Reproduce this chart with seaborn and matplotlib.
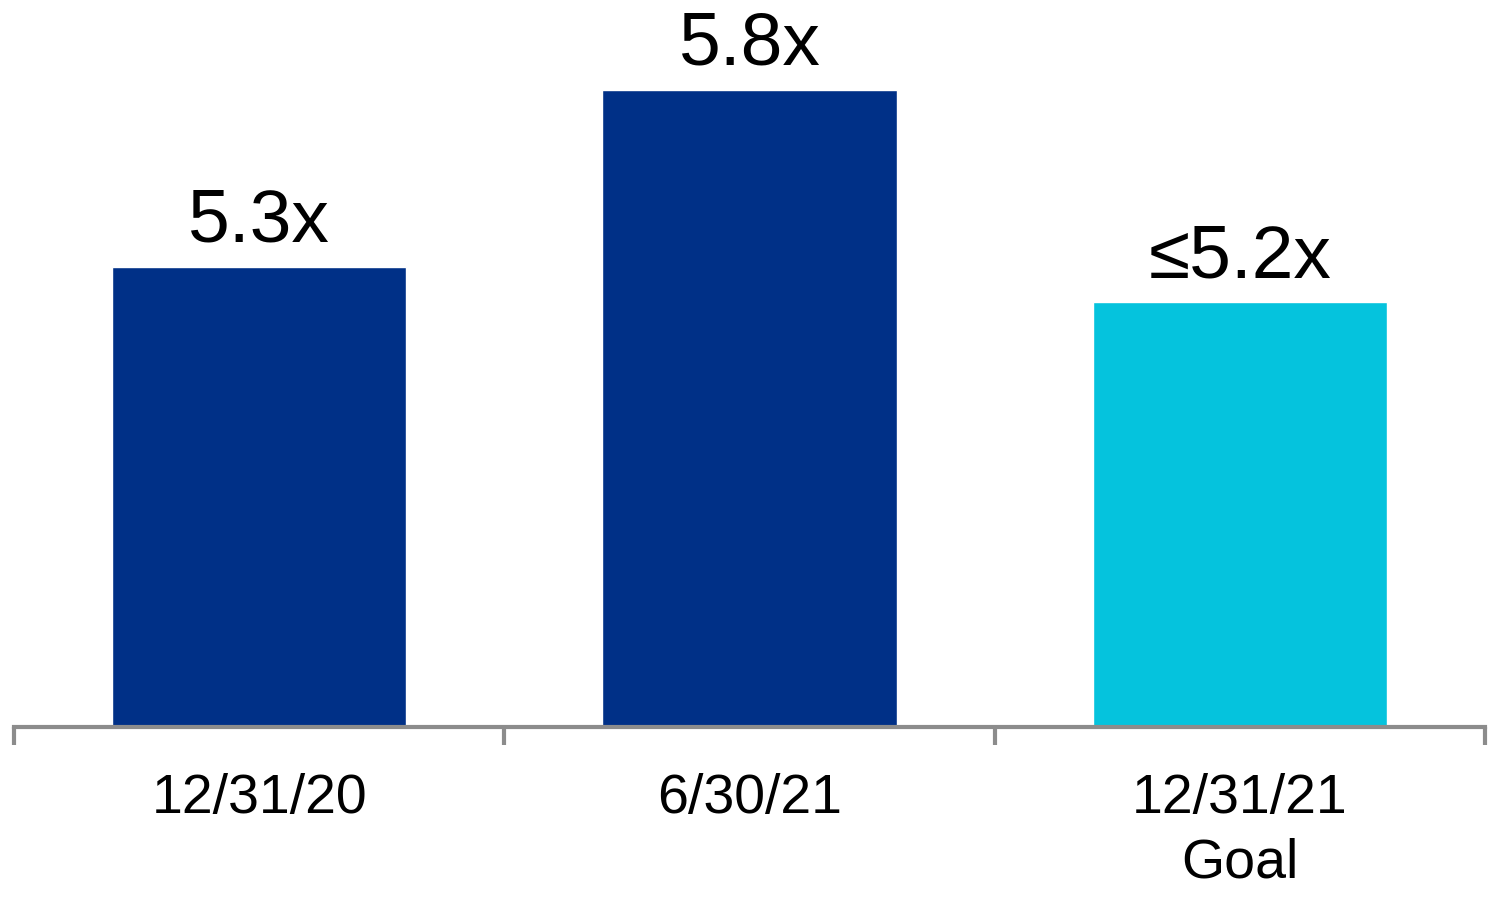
import matplotlib
matplotlib.use("Agg")
import matplotlib.pyplot as plt
import seaborn as sns
import pandas as pd
from matplotlib.ticker import FixedLocator

categories = ["12/31/20", "6/30/21", "12/31/21\nGoal"]
values = [5.3, 5.8, 5.2]
labels = ["5.3x", "5.8x", "\u22645.2x"]
colors = ["#003087", "#003087", "#05C3DD"]

sns.set_theme(style="white")
plt.rcParams['font.family'] = ['Liberation Sans', 'DejaVu Sans']

df = pd.DataFrame({"cat": categories, "val": values})

fig = plt.figure(figsize=(15, 8.99), dpi=100)
ax = fig.add_axes([14/1500, 172/899, (1485-14)/1500, (727-19)/899])

sns.barplot(data=df, x="cat", y="val", hue="cat", palette=colors, width=0.6,
            saturation=1, legend=False, ax=ax)
ax.set_ylim(4.0, 6.0)
# bars start at 4.0
for p in ax.patches:
    h = p.get_height()
    p.set_y(4.0)
    p.set_height(h - 4.0)

ax.set_xlim(-0.5, 2.5)
for i, (v, t) in enumerate(zip(values, labels)):
    ax.annotate(t, xy=(i, v), xytext=(0, 18), textcoords="offset points",
                ha="center", va="baseline", fontsize=54, color="black")

sns.despine(ax=ax, left=True, top=True, right=True)
ax.spines['bottom'].set_color('#8c8c8c')
ax.spines['bottom'].set_linewidth(3)
ax.set_yticks([])
ax.set_xlabel("")
ax.set_ylabel("")
ax.xaxis.set_major_locator(FixedLocator([-0.5, 0.5, 1.5, 2.5]))
ax.xaxis.set_minor_locator(FixedLocator([0, 1, 2]))
ax.xaxis.set_major_formatter(plt.NullFormatter())
ax.set_xticklabels(categories, minor=True, linespacing=1.32)
ax.tick_params(axis='x', which='major', direction='out', length=13, width=3,
               color='#8c8c8c', bottom=True)
ax.tick_params(axis='x', which='minor', length=0, pad=33, labelsize=40,
               labelcolor='black', bottom=True)

fig.savefig("out.png", dpi=100, facecolor="white")
